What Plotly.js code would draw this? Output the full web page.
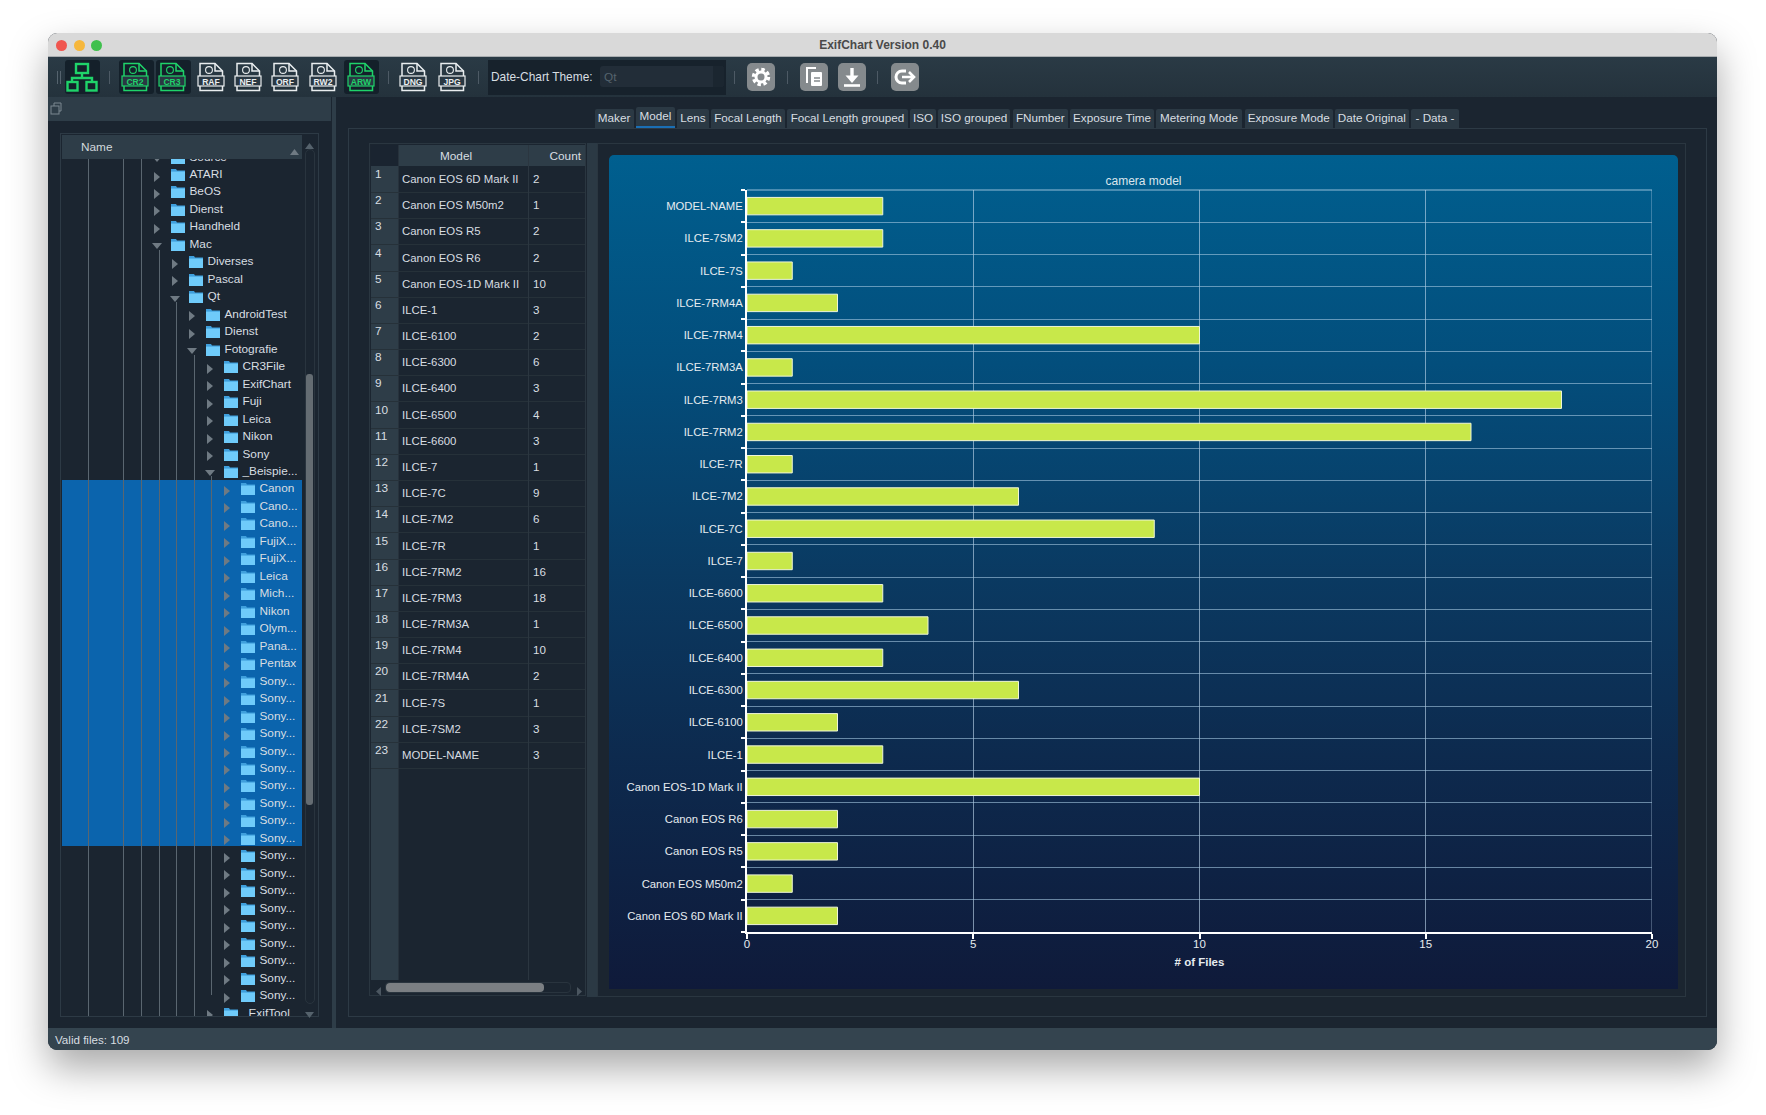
<!DOCTYPE html>
<html><head><meta charset="utf-8">
<script src="https://cdn.plot.ly/plotly-3.0.1.min.js"></script>
<style>
html,body{margin:0;padding:0;background:#fff;width:1766px;height:1115px;overflow:hidden;font-family:"Liberation Sans",Arial,sans-serif;color:#d8dde0}
.a{position:absolute}
#win{position:absolute;left:48px;top:33px;width:1669px;height:1017px;border-radius:9px;background:#1b2530;box-shadow:0 18px 38px rgba(0,0,0,.34);overflow:hidden}
#root{position:absolute;left:0;top:0;width:1766px;height:1115px}
.t{position:absolute;white-space:nowrap;font-size:11.8px;line-height:14px;color:#d8dee2}
</style></head><body>
<div id="win"></div><div id="root"></div>
<script>
// ---- chart data (bottom to top on the chart, top to bottom in the table)
const models=["Canon EOS 6D Mark II","Canon EOS M50m2","Canon EOS R5","Canon EOS R6","Canon EOS-1D Mark II","ILCE-1","ILCE-6100","ILCE-6300","ILCE-6400","ILCE-6500","ILCE-6600","ILCE-7","ILCE-7C","ILCE-7M2","ILCE-7R","ILCE-7RM2","ILCE-7RM3","ILCE-7RM3A","ILCE-7RM4","ILCE-7RM4A","ILCE-7S","ILCE-7SM2","MODEL-NAME"];
const counts=[2,1,2,2,10,3,2,6,3,4,3,1,9,6,1,16,18,1,10,2,1,3,3];
const xTicks=[0,5,10,15,20];
const chartTitle="camera model";
const xTitle="# of Files";
// ---- window furniture text
const tabNames=["Maker","Model","Lens","Focal Length","Focal Length grouped","ISO","ISO grouped","FNumber","Exposure Time","Metering Mode","Exposure Mode","Date Original","- Data -"];
const treeRows=[["ATARI",0],["BeOS",0],["Dienst",0],["Handheld",0],["Mac",0,1],["Diverses",1],["Pascal",1],["Qt",1,1],["AndroidTest",2],["Dienst",2],["Fotografie",2,1],["CR3File",3],["ExifChart",3],["Fuji",3],["Leica",3],["Nikon",3],["Sony",3],["_Beispie...",3,1],["Canon",4],["Cano...",4],["Cano...",4],["FujiX...",4],["FujiX...",4],["Leica",4],["Mich...",4],["Nikon",4],["Olym...",4],["Pana...",4],["Pentax",4],["Sony...",4],["Sony...",4],["Sony...",4],["Sony...",4],["Sony...",4],["Sony...",4],["Sony...",4],["Sony...",4],["Sony...",4],["Sony...",4],["Sony...",4],["Sony...",4],["Sony...",4],["Sony...",4],["Sony...",4],["Sony...",4],["Sony...",4],["Sony...",4],["Sony...",4],["ExifTool",3]];
const fileIcons=[["CR2",135,1],["CR3",172,1],["RAF",210.5,0],["NEF",248,0],["ORF",285,0],["RW2",323,0],["ARW",360.5,1],["DNG",413,0],["JPG",451.5,0]];

const root=document.getElementById('root');
function box(x,y,w,h,bg,extra){const d=document.createElement('div');d.className='a';d.style.cssText=`left:${x}px;top:${y}px;width:${w}px;height:${h}px;background:${bg};${extra||''}`;root.appendChild(d);return d;}
function txt(s,x,y,o){o=o||{};const d=document.createElement('div');d.className='t';d.textContent=s;d.style.left=x+'px';d.style.top=(y-7)+'px';if(o.size)d.style.fontSize=o.size+'px';if(o.color)d.style.color=o.color;if(o.bold)d.style.fontWeight='bold';if(o.center){d.style.transform='translateX(-50%)'}if(o.right){d.style.transform='translateX(-100%)'}root.appendChild(d);return d;}
function frame(x,y,w,h,c){return box(x,y,w,h,'transparent',`box-sizing:border-box;border:1px solid ${c||'#2d3a45'};`);}
function svg(x,y,w,h,inner){const d=document.createElement('div');d.className='a';d.style.cssText=`left:${x}px;top:${y}px;width:${w}px;height:${h}px`;d.innerHTML=`<svg xmlns="http://www.w3.org/2000/svg" width="${w}" height="${h}" viewBox="0 0 ${w} ${h}">${inner}</svg>`;root.appendChild(d);return d;}

// title bar
box(48,33,1669,24,'#d9d9d9','border-radius:9px 9px 0 0;border-bottom:1px solid #a9adb0;box-sizing:border-box');
[[61,'#f0564f'],[79,'#f6b73c'],[96,'#3fc04d']].forEach(c=>box(c[0]-5.5,40,11,11,c[1],'border-radius:50%'));
txt("ExifChart Version 0.40",882.5,45,{center:1,bold:1,size:12,color:'#4a4a4a'});
// toolbar
box(48,57,1669,40,'linear-gradient(180deg,#2a3a45,#24323c)');
[[65,35],[118.5,35],[156,35],[343.5,35]].forEach(b=>box(b[0],60,b[1],34,'#14202a','border-radius:3px'));
box(488,60,238,35,'#17222c');
box(600,66,124,21,'#222d38','border-radius:3px');
box(713,66,11,21,'#1b2630','border-radius:0 3px 3px 0');
txt("Qt",604,76.5,{color:'#55636e'});
txt("Date-Chart Theme:",491,77,{size:11.9});
[57,60].forEach(x=>box(x,71,1,13,'#55636e'));
[109,387.5,478,734,787,877].forEach(x=>box(x,71,1,13,'#4d5a65'));
// network icon
svg(66,61,32,32,`<g fill="none" stroke="#1fd36a" stroke-width="2.4"><rect x="10" y="3" width="12" height="9"/><path d="M16 12v5M6 21v-4h20v4"/><rect x="1.5" y="21" width="10" height="8.5"/><rect x="20.5" y="21" width="10" height="8.5"/></g>`);
// file icons
fileIcons.forEach(f=>{const c=f[2]?'#1fd36a':'#e9edef',x=f[1]-14;
 svg(x,62,28,30,`<path d="M3 1.5h15l7.5 7.5v19.5H3z" fill="none" stroke="${c}" stroke-width="1.5"/><path d="M18 1.5v7.5h7.5" fill="none" stroke="${c}" stroke-width="1.5"/><circle cx="12" cy="8" r="3.4" fill="none" stroke="${c}" stroke-width="1.1"/><rect x="1" y="14" width="26" height="10" fill="#2a3843" stroke="${c}" stroke-width="1.2"/><text x="14" y="22.5" text-anchor="middle" font-family="Liberation Sans" font-weight="bold" font-size="8.6" fill="${c}">${f[0]}</text>`);
});
// action buttons
function btn(x,inner){box(x-14,63,28,28,'#858a8d','border-radius:5px');svg(x-14,63,28,28,inner);}
btn(761,`<circle cx="14" cy="14" r="7.5" fill="none" stroke="#fff" stroke-width="3.4" stroke-dasharray="3.4 2.5"/><circle cx="14" cy="14" r="5" fill="none" stroke="#fff" stroke-width="3"/>`);
btn(814,`<path d="M16 5H7v15" fill="none" stroke="#fff" stroke-width="2"/><rect x="11" y="9" width="11" height="14" rx="1" fill="#fff"/><path d="M14 15h6M14 18h6" stroke="#858a8d" stroke-width="1.3"/>`);
btn(852,`<path d="M14 5v11" stroke="#fff" stroke-width="3.4"/><path d="M7.5 12.5h13L14 20z" fill="#fff"/><path d="M6 22.5h16" stroke="#fff" stroke-width="2.6"/>`);
btn(905,`<path d="M15 8H11a6 6 0 0 0 0 12h4" fill="none" stroke="#fff" stroke-width="3"/><path d="M11 14h12M18 9l5 5-5 5" fill="none" stroke="#fff" stroke-width="2.6"/>`);

// left dock
box(48,97,283,24,'#2e3d48');
svg(50,102,12,14,`<rect x="1" y="4" width="8" height="8" fill="none" stroke="#7b8890"/><path d="M4 4V1h7v8H9" fill="none" stroke="#7b8890"/>`);
box(331.5,97,4,931,'#2e3d48');
frame(60,133,259,884,'#2d3a45');
// tree (clipped viewport)
const treeClip=box(62,159,241,857,'transparent','overflow:hidden');
function tb(x,y,w,h,bg,extra){const d=document.createElement('div');d.className='a';d.style.cssText=`left:${x-62}px;top:${y-159}px;width:${w}px;height:${h}px;background:${bg};${extra||''}`;treeClip.appendChild(d);return d;}
// selected band
tb(62,480,240,366,'#0b64ad');
[[88,159],[123,159],[141,159],[159,250],[176,302],[194,355],[211,476]].forEach(l=>{const end=l[0]==211?995:1017;tb(l[0],l[1],1,end-l[1],'#5a6670');});
function folder(x,y){const d=document.createElement('div');d.className='a';d.style.cssText=`left:${x-62}px;top:${y-159-7.5}px`;d.innerHTML=`<svg width="14" height="13"><path d="M0 1h5l1 1.5h8V13H0z" fill="#3f9fdc"/><path d="M0 3.6h14V13H0z" fill="#6fcbfa"/></svg>`;treeClip.appendChild(d);}
function arrow(x,y,open){const d=document.createElement('div');d.className='a';d.style.cssText=`left:${x-62}px;top:${y-159-7}px`;d.innerHTML=open?`<svg width="10" height="10"><path d="M0 2h10L5 8z" fill="#6f7a83"/></svg>`:`<svg width="10" height="10"><path d="M2 0l6 5-6 5z" fill="#6f7a83"/></svg>`;treeClip.appendChild(d);}
const levelX=[158,176,193,211,228];
function row(name,lv,open,y,shift){const ax=levelX[lv]-0.5;arrow(ax-5.5,y,open);const fx=ax+13;folder(fx,y);
 const s=document.createElement('div');s.className='t';s.textContent=name;s.style.left=(fx+19+(shift||0)-62)+'px';s.style.top=(y-159-7.5)+'px';treeClip.appendChild(s);}
row("Source",0,1,157);
treeRows.forEach((r,i)=>row(r[0],r[1],r[2],174.5+17.47*i,r[0]==="ExifTool"?6:0));
// header drawn over tree
box(62,135,240,24,'#2e3d48');
txt("Name",81,147,{color:'#d2d8dc'});
svg(290,143,10,8,`<path d="M0 6h9L4.5 0z" fill="#6f7a83"/>`);
box(305,149,10,855,'transparent','box-sizing:border-box;border:1px solid #29343e;border-radius:5px');
svg(305,137,10,8,`<path d="M0 6h9L4.5 0z" fill="#55626c"/>`);
svg(305,1006,10,8,`<path d="M0 0h9L4.5 6z" fill="#55626c"/>`);
box(306,374,7,431,'#646c72','border-radius:3px');

// right side
frame(348,128,1359,889,'#2d3a45');
// tabs
const tabX=[[594.6,633.6],[636,675],[677,709],[711,785],[787,908],[910,936],[938,1010],[1012.5,1068],[1070,1154],[1156,1242],[1244.5,1333],[1335,1408.6],[1411,1459]];
tabNames.forEach((n,i)=>{const sel=i===1,[a,b]=tabX[i];
 box(a,sel?107:109,b-a,sel?21:19,'#2b3944','border-radius:2px 2px 0 0'+(sel?';box-sizing:border-box;border-bottom:2px solid #1a6fb5':''));
 txt(n,(a+b)/2,sel?116:118,{center:1,size:11.7});});
// table
box(369,142,1317,855,'#1b2530');
frame(369,143,217,853,'#2a3640');
box(587,143,10,854,'#2b3944');
box(371,145,27,21,'#1a2430');
box(398,145,130,21,'#2e3d48');
box(529,145,56,21,'#2e3d48');
txt("Model",456,155.5,{center:1,size:11.8});
txt("Count",581,155.5,{right:1,size:11.8});
box(371,166,27,814,'#2e3d48');
models.forEach((m,i)=>{const y=167+26.18*i;
 box(371,y+25,214,1,'#263139');
 box(371,y,27,25,'#2e3d48');
 txt(String(i+1),375,y+7,{size:11.8});
 txt(m,402,y+12,{size:11.4});
 txt(String(counts[i]),533,y+12,{size:11.6});
});
box(398,145,1,835,'#27323c');box(528,145,1,835,'#2b3640');
box(385,982,186,11,'transparent','box-sizing:border-box;border:1px solid #29343e;border-radius:4px');
box(386,983,158,9,'#7b7f83','border-radius:4px');
svg(375,983,8,10,`<path d="M6 0v9L1 4.5z" fill="#4b5660"/>`);
svg(576,983,8,10,`<path d="M1 0v9l5-4.5z" fill="#4b5660"/>`);
frame(597,143,1089,854,'#2a3640');
// chart background + chart
const cb=box(609,155,1069,834,'linear-gradient(180deg,#005f8f 0%,#034e7c 25%,#0a3a62 50%,#0d2a4e 72%,#0f1a3a 100%)','border-radius:5px 5px 0 0');
cb.id='chart';
// status bar
box(48,1028,1669,22,'#34444f','border-radius:0 0 9px 9px');
txt("Valid files: 109",55,1040,{size:11.6});

const gridH='rgba(165,200,225,.6)', gridV='rgba(190,215,235,.62)';
Plotly.newPlot('chart',[{type:'bar',orientation:'h',y:models,x:counts,width:0.54,
  marker:{color:'#c8e84a',line:{color:'#eef5d8',width:1}},hoverinfo:'x+y'}],
 {width:1069,height:834,paper_bgcolor:'rgba(0,0,0,0)',plot_bgcolor:'rgba(0,0,0,0)',
  margin:{l:138,r:25.5,t:35,b:56.5,pad:0},showlegend:false,
  font:{family:'"Liberation Sans",Arial,sans-serif',color:'#e6ecf0',size:12},
  title:{text:chartTitle,x:0.5,xref:'container',xanchor:'center',y:0.9685,yref:'container',yanchor:'middle',font:{size:12,color:'#dbe5ec'}},
  shapes:[
   {type:'line',xref:'x',yref:'paper',x0:xTicks[xTicks.length-1],x1:xTicks[xTicks.length-1],y0:0,y1:1,line:{color:gridV,width:1},layer:'below'},
   {type:'line',xref:'paper',yref:'paper',x0:0,x1:1,y0:1,y1:1,line:{color:gridH,width:1.3},layer:'below'}],
  xaxis:{range:[0,20],tickmode:'array',tickvals:xTicks,ticktext:xTicks.map(String),ticks:'outside',ticklen:5,tickwidth:1.5,tickcolor:'#fff',ticklabelstandoff:-5,
    showline:true,linecolor:'#fff',linewidth:2,showgrid:true,gridcolor:gridV,gridwidth:1,zeroline:false,
    tickfont:{size:11.5,color:'#e6ecf0'},title:{text:xTitle,font:{size:11.5,color:'#e6ecf0',weight:'bold'},standoff:9},fixedrange:true},
  yaxis:{type:'category',categoryorder:'array',categoryarray:models,range:[-0.5,22.5],tickson:'boundaries',ticks:'outside',ticklen:4,tickwidth:1.5,tickcolor:'#fff',
    showline:true,linecolor:'#fff',linewidth:2,showgrid:true,gridcolor:gridH,gridwidth:1.3,zeroline:false,
    tickfont:{size:11.3,color:'#e6ecf0'},fixedrange:true},
  bargap:0.46},
 {displayModeBar:false,responsive:false});
</script></body></html>
